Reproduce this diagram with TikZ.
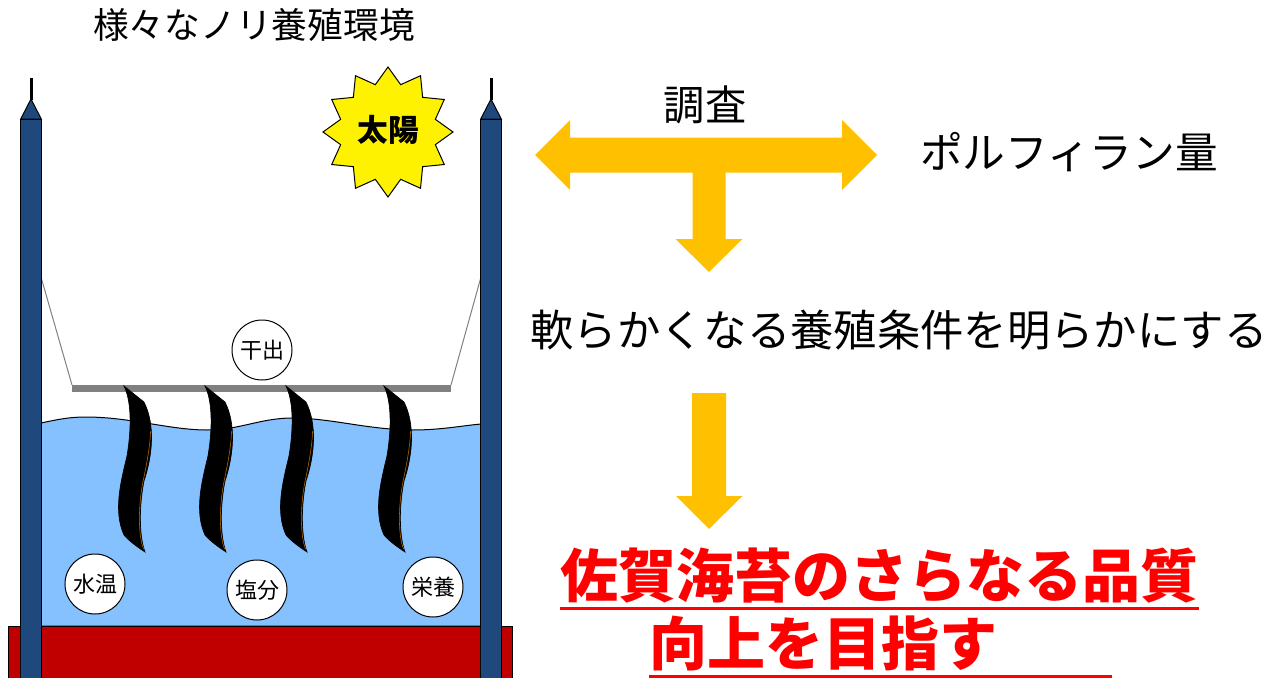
\documentclass[tikz,border=0pt]{standalone}
\usepackage{fontspec}
\setmainfont{Noto Sans CJK JP}
\usetikzlibrary{positioning}

\definecolor{poleblue}{HTML}{1F497D}
\definecolor{seablue}{HTML}{85C1FF}
\definecolor{basered}{HTML}{C00000}
\definecolor{arroworange}{HTML}{FFC000}
\definecolor{goalred}{HTML}{FF0000}
\definecolor{netgray}{HTML}{808080}
\definecolor{bladeedge}{HTML}{C07000}

\tikzset{
  pole/.style={draw=black, fill=poleblue, line width=0.75pt},
  rope/.style={draw=netgray, line width=0.75pt},
  blade/.style={fill=black, draw=black, line width=0.5pt},
  bubble/.style={circle, draw=black, fill=white, line width=0.75pt,
    minimum size=45pt, inner sep=0pt, font=\fontsize{16.5}{18}\selectfont},
  bigarrow/.style={fill=arroworange},
  caption/.style={inner sep=0pt, font=\fontsize{32.5}{38}\selectfont},
  goal/.style={inner sep=0pt, text=goalred, font=\fontsize{43.5}{50}\selectfont\bfseries},
  uline/.style={draw=goalred, line width=2.25pt}
}

\begin{document}
\begin{tikzpicture}[x=0.75pt, y=-0.75pt]
\useasboundingbox (0,0) rectangle (1279,678);

% heading
\node[inner sep=0pt, font=\fontsize{26.8}{32}\selectfont] (title) at (254,25) {様々なノリ養殖環境};

% sea with wavy surface
\draw[fill=seablue, draw=black, line width=0.75pt]
  (41,423) .. controls (60,419) and (70,417) .. (86,417)
  .. controls (130,417) and (170,430) .. (207,430)
  .. controls (240,430) and (260,418) .. (293,418)
  .. controls (330,418) and (370,430) .. (413,430)
  .. controls (440,430) and (460,426) .. (481,424)
  -- (481,626) -- (41,626) -- cycle;

% sea bed
\draw[fill=basered, draw=black, line width=0.75pt] (8,626) rectangle (512,690);

% net hung between the poles
\coordinate (ropeL) at (41,277);
\coordinate (ropeR) at (481,277);
\coordinate (netL) at (72,385);
\coordinate (netR) at (451,385);
\draw[rope] (ropeL) -- (netL);
\draw[rope] (ropeR) -- (netR);
\fill[netgray] (netL) rectangle (451,392);

% nori blades
\foreach \x in {124,205,286,384} {
  \draw[blade, shift={(\x,386)}]
    (0,0) .. controls (7,14) and (8,40) .. (3,70)
    .. controls (-3,95) and (-11,125) .. (0,149)
    .. controls (6,156) and (15,162) .. (21,166)
    .. controls (15,150) and (15,120) .. (20,95)
    .. controls (29,68) and (31,38) .. (20,16) -- cycle;
  \draw[bladeedge, line width=0.4pt, shift={(\x-0.9,386)}]
    (20.5,163) .. controls (15,150) and (15,120) .. (20,95)
    .. controls (24,76) and (27,60) .. (27.5,45);
}

% factors
\node[bubble] (dry) at (262,350) {干出};
\node[bubble] (temp) at (95,584) {水温};
\node[bubble] (salt) at (257,590) {塩分};
\node[bubble] (feed) at (433,587) {栄養};

% poles
\foreach \x in {20.7,480.7} {
  \draw[black, line width=2.25pt] (\x+10.3,78) -- (\x+10.3,100);
  \draw[pole] (\x,119) -- (\x+10.3,99) -- (\x+20.6,119) -- cycle;
  \draw[pole] (\x,119) rectangle (\x+20.6,690);
}

% sun
\draw[fill=yellow, draw=black, line width=0.75pt, shift={(388,132)}]
  (90:65) \foreach \i in {1,...,23} { -- ({90+15*\i}:{ifthenelse(isodd(\i),49,65)}) } -- cycle;
\node[inner sep=0pt, font=\fontsize{23}{26}\selectfont\bfseries] (sun) at (388,130) {太陽};

% survey arrows
\fill[bigarrow] (535,155) -- (570,120) -- (570,137.5) -- (842,137.5) -- (842,120)
  -- (877,155) -- (842,190) -- (842,172.5) -- (725.5,172.5) -- (725.5,239)
  -- (742.5,239) -- (709,272) -- (675.5,239) -- (692.5,239) -- (692.5,172.5)
  -- (570,172.5) -- (570,190) -- cycle;
\node[inner sep=0pt, font=\fontsize{31}{36}\selectfont] (survey) at (705,105) {調査};
\node[caption, font=\fontsize{32}{38}\selectfont] (porphyran) at (1069,152) {ポルフィラン量};
\node[caption] (condition) at (899,330) {軟らかくなる養殖条件を明らかにする};

\fill[bigarrow] (692,393) -- (726,393) -- (726,496) -- (742.5,496) -- (709,529)
  -- (676,496) -- (692,496) -- cycle;

% goal
\node[goal] (goal1) at (879.5,576) {佐賀海苔のさらなる品質};
\draw[uline] ([yshift=-3.75pt]goal1.south west) -- ([yshift=-3.75pt]goal1.south east);
\node[goal, anchor=west, text width=346.5pt, align=left] (goal2) at (649,643) {向上を目指す};
\draw[uline] ([yshift=-4.5pt]goal2.south west) -- ([yshift=-4.5pt]goal2.south east);
\end{tikzpicture}
\end{document}
